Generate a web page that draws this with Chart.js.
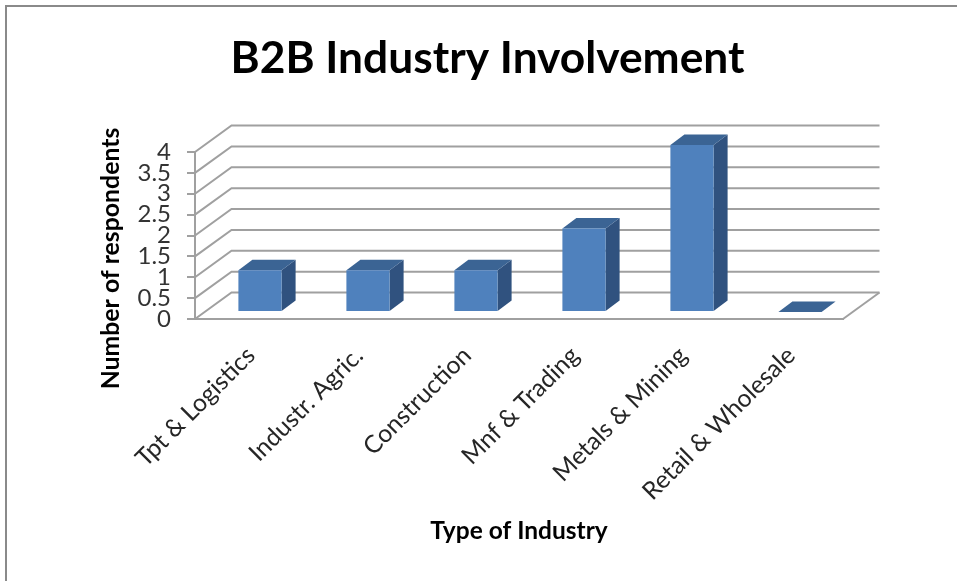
<!DOCTYPE html>
<html><head><meta charset="utf-8">
<style>
html,body{margin:0;padding:0;background:#fff;overflow:hidden}
#wrap{position:relative;width:957px;height:581px}
#frame{position:absolute;left:5px;top:5px;right:0;bottom:0;border-left:2px solid #8a8a8a;border-top:2px solid #8a8a8a}
canvas{position:absolute;left:0;top:0}
</style>
<script src="https://cdn.jsdelivr.net/npm/chart.js@4/dist/chart.umd.min.js"></script>
</head><body>
<div id="wrap"><div id="frame"></div><canvas id="c" width="957" height="581"></canvas></div>
<script>
const chartTitle = "B2B Industry Involvement";
const xTitle = "Type of Industry";
const yTitle = "Number of respondents";
const categories = ["Tpt & Logistics","Industr. Agric.","Construction","Mnf & Trading","Metals & Mining","Retail & Wholesale"];
const respondents = [1,1,1,2,4,0];

const FACE="#4f81bd", TOP="#3b6494", SIDE="#30527f", GRID="#a0a0a0";
const wallDX=36.5, wallDY=-26.5, barDX=11, barDY=-7, depthDX=14, depthDY=-10.5;

function poly(ctx,pts,fill){
  ctx.beginPath();ctx.moveTo(pts[0][0],pts[0][1]);
  for(let i=1;i<pts.length;i++)ctx.lineTo(pts[i][0],pts[i][1]);
  ctx.closePath();ctx.fillStyle=fill;ctx.fill();
}
const threeD={
  id:"threeD",
  beforeDatasetsDraw(chart){
    const {ctx,scales:{x,y}}=chart;
    ctx.save();
    ctx.strokeStyle=GRID;ctx.lineWidth=2;
    y.ticks.forEach(t=>{
      const py=y.getPixelForValue(t.value);
      ctx.beginPath();
      ctx.moveTo(x.left,py);
      ctx.lineTo(x.left+wallDX,py+wallDY);
      ctx.lineTo(x.right+wallDX,py+wallDY);
      ctx.stroke();
    });
    const p0=y.getPixelForValue(0);
    ctx.beginPath();ctx.moveTo(x.right,p0);ctx.lineTo(x.right+wallDX,p0+wallDY);ctx.stroke();
    ctx.restore();
    ctx.save();
    ctx.translate(barDX,barDY);
    chart.getDatasetMeta(0).data.forEach(b=>{
      const p=b.getProps(["x","y","base","width"],true);
      const l=p.x-p.width/2,r=p.x+p.width/2;
      poly(ctx,[[r,p.y],[r+depthDX,p.y+depthDY],[r+depthDX,p.base+depthDY],[r,p.base]],SIDE);
      poly(ctx,[[l,p.y],[l+depthDX,p.y+depthDY],[r+depthDX,p.y+depthDY],[r,p.y]],TOP);
    });
  },
  afterDatasetsDraw(chart){chart.ctx.restore();}
};
new Chart(document.getElementById("c"),{
  type:"bar",
  data:{labels:categories,datasets:[{data:respondents,backgroundColor:FACE,borderWidth:0,barPercentage:0.4,categoryPercentage:1,clip:false}]},
  plugins:[threeD],
  options:{
    responsive:false,animation:false,
    layout:{padding:{left:18,right:0,top:0,bottom:0}},
    plugins:{
      legend:{display:false},tooltip:{enabled:false},
      title:{display:true,text:chartTitle,color:"#000",font:{family:"Lato",size:44.3,weight:"bold",lineHeight:1.2},padding:{top:32.4,bottom:66.44}}
    },
    scales:{
      x:{
        type:"category",
        afterFit(s){s.height=262;},
        grid:{display:false,drawTicks:false},
        border:{display:true,color:GRID,width:2},
        ticks:{autoSkip:false,minRotation:45,maxRotation:45,padding:22,labelOffset:2,color:"#262626",font:{family:"Lato",size:24.6}},
        title:{display:true,text:xTitle,color:"#000",font:{family:"Lato",size:24.5,weight:"bold"},padding:{top:0,bottom:35.3}}
      },
      y:{
        min:0,max:4,
        afterFit(s){
          s.width=177;
          if(!s._shifted){s._shifted=true;const d=s.drawTitle;s.drawTitle=function(){const c=this.ctx;c.save();c.translate(0,23);d.call(this);c.restore();};}
        },
        grid:{drawOnChartArea:false,drawTicks:true,tickLength:8,color:GRID,lineWidth:2},
        border:{display:true,color:GRID,width:2},
        ticks:{stepSize:0.5,autoSkip:false,padding:16,color:"#333",font:{family:"Lato",size:24},callback:v=>String(v)},
        title:{display:true,text:yTitle,color:"#000",font:{family:"Lato",size:24.8,weight:"bold"},padding:{top:78.1,bottom:0}}
      },
      pad:{
        position:"right",min:0,max:1,
        afterFit(s){s.width=114;},
        grid:{display:false,drawTicks:false},border:{display:false},
        ticks:{display:false}
      }
    }
  }
});
</script>
</body></html>
